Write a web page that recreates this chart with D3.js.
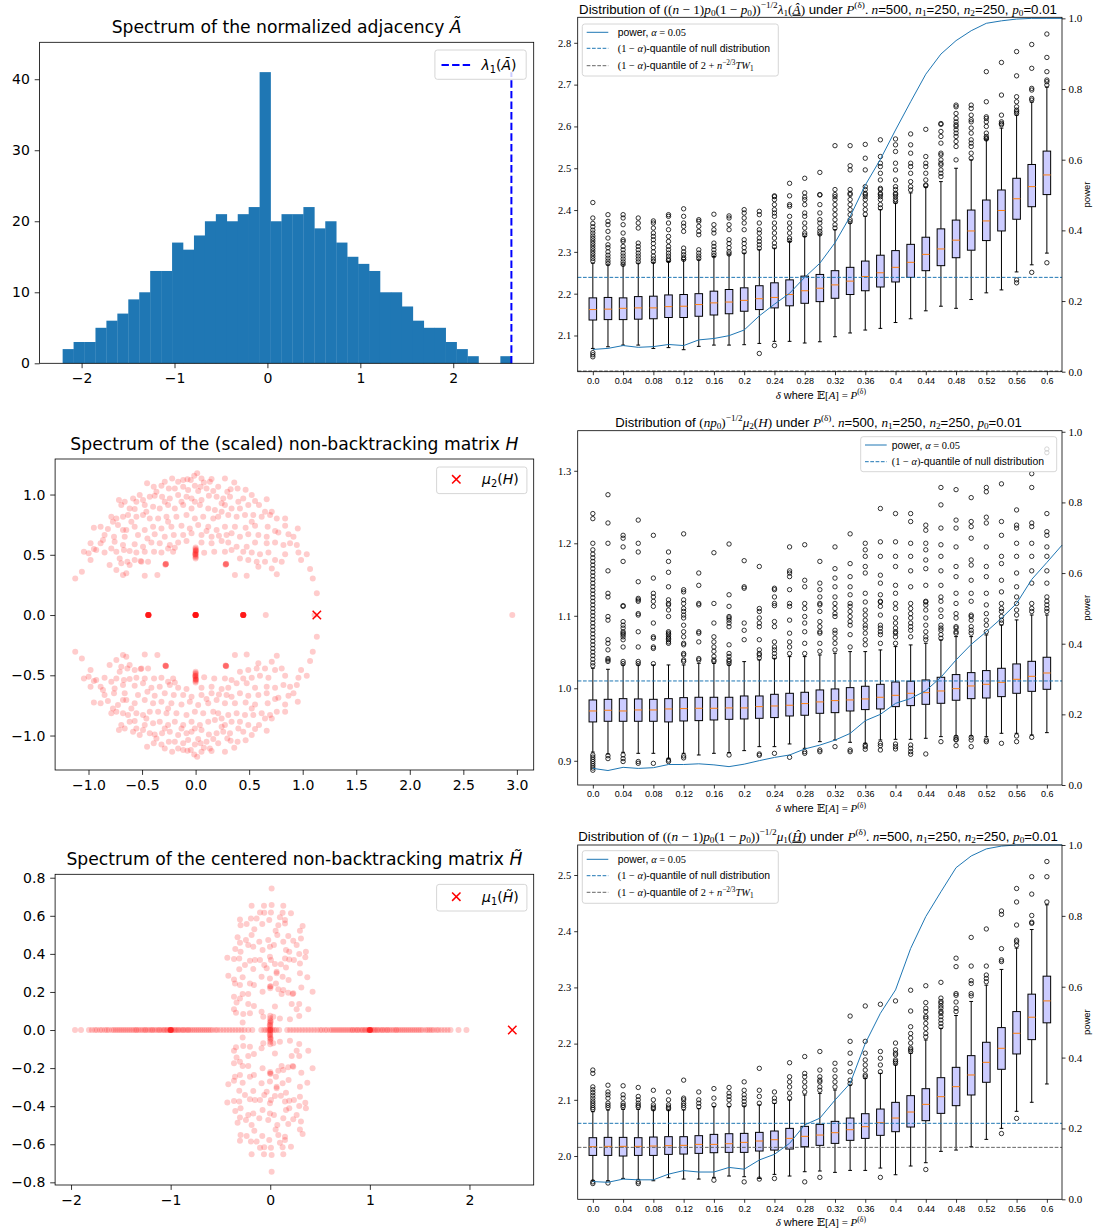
<!DOCTYPE html>
<html>
<head>
<meta charset="utf-8">
<script src="https://cdn.jsdelivr.net/npm/d3@7"></script>
<style>
  body { margin: 0; background: #fff; }
  svg { display: block; }
  text { white-space: pre; }
</style>
</head>
<body>
<svg id="fig" width="1094" height="1230"></svg>
<script>
// ---------------------------------------------------------------
// Spectrum of the normalized adjacency: histogram of 500 eigenvalues
// ---------------------------------------------------------------
const histBinStart = -2.204;
const histBinWidth = 0.11778;
const histCounts = [2,3,3,5,6,7,9,10,13,13,17,16,18,20,21,20,21,22,41,20,21,21,22,19,20,17,15,14,13,10,10,8,6,5,5,3,2,1,0,0,1];
const lambda1A = 2.626;

// ---------------------------------------------------------------
// Spectrum of the scaled non-backtracking matrix H (upper half plane;
// complex eigenvalues come in conjugate pairs)
// ---------------------------------------------------------------
const hUpper = [
[0.015,1.176],[-0.013,1.157],[-0.219,1.134],[-0.116,1.121],[-0.076,1.126],[-0.045,1.121],[0.055,1.134],[0.149,1.129],[0.274,1.134],[-0.453,1.093],[-0.288,1.107],[-0.163,1.107],[0.133,1.107],[0.361,1.101],[0.077,1.101],
[-0.391,1.065],[-0.319,1.074],[-0.250,1.051],[-0.194,1.051],[-0.116,1.065],[-0.007,1.074],[0.046,1.065],[0.102,1.051],[0.211,1.065],[0.327,1.043],[0.392,1.051],[0.467,1.040],[-0.366,1.024],[-0.070,1.038],[0.024,1.029],[0.165,1.029],[0.296,1.024],
[-0.716,0.955],[-0.662,0.941],[-0.584,0.968],[-0.522,0.996],[-0.491,0.955],[-0.428,0.982],[-0.382,0.991],[-0.313,0.982],[-0.241,0.968],[-0.163,0.996],[-0.085,0.982],[-0.038,0.968],[0.055,0.955],[0.124,0.991],[0.196,0.982],[0.258,0.968],[0.321,0.982],[0.445,0.968],[0.524,0.996],[0.555,0.946],[0.664,0.960],[-0.553,0.941],[-0.288,0.941],[-0.132,0.941],[-0.007,0.941],[0.243,0.927],[0.399,0.941],
[-0.694,0.913],[-0.616,0.885],[-0.569,0.880],[-0.475,0.913],[-0.397,0.899],[-0.335,0.885],[-0.257,0.913],[-0.194,0.885],[-0.116,0.913],[-0.038,0.885],[0.040,0.913],[0.118,0.885],[0.180,0.872],[0.274,0.913],[0.336,0.885],[0.414,0.885],[0.492,0.913],[0.592,0.913],[0.648,0.858],[0.711,0.858],[-0.460,0.858],[0.243,0.858],
[-0.787,0.816],[-0.740,0.802],[-0.678,0.816],[-0.631,0.830],[-0.553,0.816],[-0.491,0.830],[-0.428,0.802],[-0.350,0.802],[-0.272,0.816],[-0.179,0.816],[-0.085,0.830],[-0.007,0.802],[0.071,0.816],[0.165,0.802],[0.211,0.816],[0.305,0.830],[0.383,0.816],[0.461,0.830],[0.539,0.830],[0.617,0.816],[0.695,0.830],[0.758,0.802],[0.836,0.802],[-0.772,0.775],[-0.600,0.775],[-0.257,0.775],[0.524,0.775],
[-0.950,0.725],[-0.887,0.733],[-0.819,0.714],[-0.725,0.747],[-0.647,0.706],[-0.569,0.733],[-0.475,0.706],[-0.397,0.733],[-0.319,0.719],[-0.226,0.733],[-0.132,0.742],[-0.054,0.719],[0.024,0.747],[0.118,0.733],[0.196,0.706],[0.274,0.733],[0.367,0.733],[0.467,0.725],[0.555,0.742],[0.673,0.733],[0.742,0.697],[0.836,0.742],[0.954,0.719],[-0.678,0.706],[0.102,0.697],
[-0.850,0.664],[-0.762,0.650],[-0.662,0.650],[-0.538,0.664],[-0.450,0.636],[-0.382,0.670],[-0.288,0.650],[-0.204,0.664],[-0.116,0.664],[-0.038,0.678],[0.055,0.664],[0.149,0.650],[0.218,0.659],[0.289,0.664],[0.336,0.678],[0.414,0.650],[0.492,0.670],[0.586,0.664],[0.664,0.650],[0.773,0.686],[0.867,0.670],[0.914,0.650],[-0.865,0.623],
[-0.981,0.595],[-0.887,0.595],[-0.756,0.609],[-0.678,0.581],[-0.569,0.587],[-0.491,0.567],[-0.413,0.603],[-0.335,0.595],[-0.241,0.581],[-0.163,0.603],[-0.085,0.614],[0.055,0.603],[0.149,0.595],[0.243,0.614],[0.305,0.603],[0.383,0.567],[0.477,0.567],[0.555,0.603],[0.664,0.595],[0.742,0.603],[0.820,0.581],[0.882,0.595],[0.945,0.581],[-0.950,0.548],[-0.787,0.553],[-0.257,0.553],[-0.194,0.559],
[-1.043,0.526],[-0.999,0.512],[-0.928,0.540],[-0.850,0.520],[-0.740,0.526],[-0.669,0.540],[-0.616,0.531],[-0.553,0.520],[-0.475,0.526],[-0.388,0.526],[-0.319,0.520],[-0.210,0.526],[0.080,0.517],[0.174,0.526],[0.274,0.526],[0.336,0.540],[0.445,0.526],[0.524,0.520],[0.601,0.504],[0.680,0.520],[0.836,0.504],[0.960,0.520],[1.038,0.504],
[-0.981,0.457],[-0.709,0.470],[-0.637,0.443],[-0.569,0.457],[-0.513,0.448],[-0.444,0.443],[-0.506,0.443],[0.414,0.470],[0.492,0.457],[0.570,0.443],[0.648,0.443],[0.742,0.457],[0.804,0.443],[0.985,0.457],[-0.803,0.415],[-0.694,0.429],[-0.616,0.415],[0.586,0.401],
[-0.740,0.374],[-0.647,0.346],[-0.475,0.327],[-0.357,0.332],[0.367,0.332],[0.477,0.327],[0.711,0.387],[0.758,0.338],[1.069,0.382],[-1.124,0.304],[-1.062,0.360],[-0.678,0.332],[1.094,0.304],[1.132,0.180],
[0,0.560],[0,0.550],[0,0.540],[0,0.530],[0,0.520],[0,0.510],[0,0.500],[0,0.490],[0,0.480],[0,0.470],[0.004,0.535],[-0.004,0.505],
[-0.279,0.423],[-0.282,0.418],[-0.276,0.426],[-0.280,0.421],[0.283,0.423],[0.280,0.418],[0.286,0.426],[0.282,0.421]
];
const hReal = [-0.441,-0.441,-0.441,-0.441,-0.441,-0.441,-0.441,-0.441,-0.441,-0.441,
  0,0,0,0,0,0,0,0,0,0,0,0,
  0.445,0.445,0.445,0.445,0.445,0.445,0.445,0.445,0.445,0.445,
  0.655,1.11,2.957];
const mu2H = 1.132;

// ---------------------------------------------------------------
// Spectrum of the centered non-backtracking matrix (upper half plane)
// ---------------------------------------------------------------
const htUpper = [
[0.014,0.744],[-0.187,0.653],[-0.063,0.653],[0.014,0.657],[0.131,0.653],[-0.103,0.618],[-0.060,0.616],[0.007,0.618],[0.124,0.616],[0.208,0.613],
[-0.304,0.581],[-0.194,0.586],[-0.137,0.586],[-0.010,0.578],[0.097,0.592],[0.148,0.578],[-0.237,0.557],[-0.298,0.551],[-0.080,0.557],[0.081,0.551],
[0.148,0.560],[0.325,0.546],[0.298,0.522],[-0.160,0.529],[0.054,0.522],[-0.328,0.487],[-0.244,0.473],[-0.304,0.459],[-0.187,0.499],[-0.110,0.464],
[-0.020,0.473],[0.071,0.499],[0.181,0.494],[0.231,0.469],[0.308,0.481],[0.131,0.464],[0.265,0.446],[-0.351,0.425],[-0.298,0.411],[-0.221,0.446],
[-0.170,0.438],[-0.077,0.420],[-0.003,0.438],[0.037,0.446],[0.158,0.420],[0.191,0.411],[0.358,0.411],[-0.431,0.380],[-0.364,0.373],[-0.311,0.376],
[-0.204,0.364],[-0.154,0.368],[-0.103,0.368],[-0.003,0.385],[0.047,0.347],[0.107,0.345],[0.148,0.376],[0.191,0.371],[0.238,0.368],[0.291,0.399],
[0.352,0.382],[-0.311,0.319],[-0.254,0.341],[-0.170,0.320],[-0.060,0.341],[0.007,0.368],[-0.036,0.324],[0.064,0.306],[0.158,0.329],[0.298,0.350],
[-0.421,0.285],[-0.364,0.266],[-0.277,0.277],[-0.354,0.245],[-0.304,0.236],[-0.204,0.245],[-0.164,0.236],[-0.087,0.280],[-0.003,0.271],[0.064,0.298],
[0.124,0.280],[0.184,0.263],[0.298,0.298],[0.372,0.277],[-0.003,0.228],[0.057,0.245],[-0.077,0.201],[0.114,0.189],[0.181,0.196],[0.231,0.193],
[0.312,0.224],[0.425,0.201],[-0.364,0.175],[-0.304,0.166],[-0.277,0.189],[-0.221,0.189],[0.081,0.214],[0.131,0.210],[0.225,0.189],[-0.338,0.144],
[-0.221,0.137],[-0.164,0.126],[0.047,0.123],[0.215,0.137],[0.291,0.137],[0.265,0.109],[0.382,0.109],[-0.364,0.109],[-0.344,0.091],[-0.271,0.084],
[-0.204,0.088],[-0.087,0.096],[-0.070,0.070],[0.291,0.074],[0.030,0.070],[-0.277,0.039],[0.198,0.056],[0.097,0.061],
[0.000,0.220],[0.005,0.230],[0,0.075],[0,0.062],[0,0.050],[0,0.040],[0,0.030],[0,0.020],[0,0.010],[0.005,0.045],[-0.005,0.025]
];
const htReal = [-1.96,-1.90,-1.82,-1.79,-1.76,-1.74,-1.71,-1.69,-1.66,-1.64,-1.62,-1.59,-1.57,-1.55,-1.53,-1.51,-1.49,-1.47,-1.45,-1.43,-1.41,-1.39,-1.37,-1.35,-1.34,-1.32,-1.30,-1.28,-1.26,-1.25,-1.23,-1.21,-1.19,-1.18,-1.16,-1.14,-1.12,-1.11,-1.09,-1.07,-1.06,-1.04,-1.03,-1.01,-1.0,-1.0,-1.0,-1.0,-1.0,-0.99,-0.98,-0.96,-0.95,-0.93,-0.92,-0.90,-0.88,-0.87,-0.85,-0.83,-0.82,-0.80,-0.78,-0.76,-0.74,-0.72,-0.70,-0.68,-0.66,-0.64,-0.62,-0.60,-0.58,-0.55,-0.53,-0.50,-0.47,-0.44,-0.41,-0.38,-0.35,-0.32,-0.29,-0.26,-0.22,-0.18,-0.09,-0.06,-0.04,-0.02,0.0,0.0,0.0,0.02,0.04,0.06,0.09,0.17,0.20,0.23,0.26,0.29,0.32,0.35,0.38,0.41,0.44,0.47,0.50,0.52,0.55,0.57,0.60,0.62,0.64,0.66,0.68,0.70,0.72,0.74,0.76,0.78,0.80,0.82,0.83,0.85,0.87,0.88,0.90,0.92,0.93,0.95,0.96,0.98,0.99,1.0,1.0,1.0,1.0,1.0,1.01,1.02,1.04,1.05,1.07,1.08,1.10,1.12,1.13,1.15,1.17,1.18,1.20,1.22,1.24,1.26,1.27,1.29,1.31,1.33,1.35,1.37,1.39,1.41,1.43,1.45,1.47,1.49,1.51,1.53,1.56,1.58,1.60,1.62,1.64,1.67,1.69,1.72,1.75,1.78,1.81,1.89,1.97];
const mu1Ht = 2.43;

// ---------------------------------------------------------------
// Box plots over delta, with power curves
// ---------------------------------------------------------------
const boxDeltas = [0,0.02,0.04,0.06,0.08,0.10,0.12,0.14,0.16,0.18,0.20,0.22,0.24,0.26,0.28,0.30,0.32,0.34,0.36,0.38,0.40,0.42,0.44,0.46,0.48,0.50,0.52,0.54,0.56,0.58,0.60];
const powerDeltas = [0,0.02,0.04,0.06,0.08,0.10,0.12,0.14,0.16,0.18,0.20,0.22,0.24,0.26,0.28,0.30,0.32,0.34,0.36,0.38,0.40,0.42,0.44,0.46,0.48,0.50,0.52,0.54,0.56,0.58,0.60,0.62];
const xTickDeltas = [0,0.04,0.08,0.12,0.16,0.20,0.24,0.28,0.32,0.36,0.40,0.44,0.48,0.52,0.56,0.60];
const xTickLabels = ["0.0","0.04","0.08","0.12","0.16","0.2","0.24","0.28","0.32","0.36","0.4","0.44","0.48","0.52","0.56","0.6"];
const powerTicks = [0,0.2,0.4,0.6,0.8,1.0];

// statistic: ((n-1)p0(1-p0))^(-1/2) lambda_1
const aQ1  = [2.137,2.138,2.138,2.139,2.140,2.143,2.143,2.146,2.149,2.152,2.158,2.162,2.166,2.171,2.177,2.181,2.189,2.198,2.207,2.216,2.228,2.239,2.255,2.267,2.286,2.304,2.327,2.350,2.378,2.408,2.437];
const aMed = [2.162,2.163,2.165,2.166,2.166,2.169,2.170,2.174,2.178,2.180,2.184,2.188,2.191,2.198,2.207,2.213,2.221,2.230,2.241,2.250,2.263,2.275,2.294,2.307,2.328,2.350,2.374,2.399,2.427,2.456,2.484];
const aQ3  = [2.190,2.191,2.190,2.193,2.194,2.197,2.198,2.200,2.206,2.210,2.214,2.219,2.226,2.233,2.242,2.246,2.255,2.263,2.278,2.292,2.303,2.318,2.335,2.355,2.376,2.400,2.424,2.448,2.476,2.509,2.541];
const aLo  = [2.069,2.073,2.077,2.077,2.069,2.071,2.066,2.074,2.077,2.077,2.078,2.081,2.086,2.086,2.082,2.085,2.097,2.106,2.113,2.117,2.131,2.140,2.159,2.170,2.165,2.186,2.202,2.209,2.252,2.269,2.297];
const aHi  = [2.273,2.269,2.269,2.273,2.274,2.277,2.281,2.281,2.289,2.293,2.297,2.305,2.309,2.325,2.337,2.341,2.353,2.369,2.385,2.401,2.417,2.441,2.455,2.468,2.500,2.520,2.568,2.596,2.627,2.658,2.694];
const aOut = [
[2.049,2.054,2.059,2.278,2.284,2.29,2.296,2.302,2.308,2.314,2.32,2.326,2.332,2.338,2.345,2.352,2.36,2.368,2.381,2.418],
[2.389,2.373,2.365,2.349,2.333,2.317,2.31,2.30,2.292,2.285,2.278,2.272],
[2.389,2.381,2.365,2.345,2.329,2.325,2.313,2.305,2.297,2.29,2.283,2.276,2.27],
[2.381,2.369,2.357,2.321,2.313,2.305,2.297,2.29,2.283,2.276],
[2.374,2.369,2.357,2.345,2.337,2.329,2.32,2.31,2.30,2.29,2.283,2.277],
[2.389,2.385,2.369,2.353,2.337,2.325,2.313,2.305,2.297,2.29,2.283,2.279],
[2.403,2.385,2.369,2.361,2.349,2.309,2.30,2.293,2.286,2.282],
[2.377,2.373,2.361,2.349,2.341,2.305,2.297,2.29,2.284],
[2.39,2.365,2.353,2.345,2.321,2.313,2.305,2.297,2.291],
[2.386,2.381,2.365,2.353,2.329,2.32,2.31,2.30,2.295],
[2.401,2.393,2.381,2.369,2.353,2.329,2.32,2.31,2.30],
[2.057,2.397,2.389,2.369,2.353,2.345,2.333,2.325,2.317,2.309],
[2.076,2.432,2.434,2.425,2.413,2.401,2.393,2.385,2.369,2.357,2.345,2.333,2.321,2.312],
[2.464,2.434,2.413,2.409,2.385,2.369,2.357,2.345,2.333,2.327],
[2.476,2.441,2.431,2.425,2.413,2.393,2.385,2.369,2.357,2.345,2.34],
[2.490,2.436,2.437,2.413,2.393,2.377,2.369,2.357,2.349,2.343],
[2.554,2.432,2.449,2.437,2.425,2.413,2.401,2.389,2.377,2.365,2.357],
[2.554,2.506,2.496,2.440,2.449,2.437,2.425,2.413,2.401,2.389,2.377,2.372],
[2.557,2.524,2.496,2.456,2.440,2.432,2.449,2.437,2.425,2.413,2.401,2.39],
[2.568,2.528,2.512,2.504,2.488,2.472,2.452,2.440,2.432,2.449,2.437,2.425,2.413,2.405],
[2.570,2.556,2.540,2.512,2.496,2.472,2.456,2.440,2.432,2.449,2.437,2.425,2.42],
[2.582,2.556,2.536,2.512,2.504,2.488,2.468,2.456,2.448],
[2.593,2.528,2.512,2.504,2.488,2.472,2.46,2.458],
[2.605,2.607,2.588,2.576,2.560,2.536,2.532,2.520,2.512,2.508,2.496,2.488,2.480],
[2.651,2.647,2.631,2.619,2.611,2.604,2.600,2.592,2.584,2.576,2.564,2.552,2.520],
[2.651,2.643,2.627,2.616,2.611,2.596,2.584,2.568,2.560,2.552,2.536,2.524],
[2.731,2.659,2.623,2.619,2.611,2.600,2.584,2.576,2.572,2.570],
[2.753,2.675,2.627,2.611,2.607,2.604],
[2.226,2.233,2.779,2.721,2.671,2.659,2.647,2.639,2.635,2.631],
[2.251,2.796,2.739,2.691,2.687,2.667,2.663],
[2.274,2.821,2.765,2.731,2.711,2.707,2.699]
];
const aPower = [0.063,0.066,0.074,0.069,0.071,0.077,0.074,0.090,0.094,0.102,0.118,0.158,0.191,0.222,0.267,0.307,0.365,0.439,0.528,0.601,0.684,0.764,0.842,0.899,0.937,0.965,0.986,0.993,0.998,1.0,1.0,1.0];
const aNullQ = 2.239;
const aTwQ = 2.015;

// statistic: (n p0)^(-1/2) mu_2(H)
const bQ1  = [0.9536,0.9545,0.9545,0.9545,0.9545,0.9536,0.9549,0.9554,0.9563,0.9572,0.9577,0.9586,0.9596,0.9618,0.9628,0.9655,0.9664,0.9687,0.9706,0.9715,0.9747,0.9761,0.9779,0.9793,0.9835,0.9857,0.9866,0.9885,0.9931,0.9958,0.9986];
const bMed = [0.9687,0.9697,0.9687,0.9701,0.9701,0.9715,0.9720,0.9724,0.9724,0.9729,0.9729,0.9747,0.9756,0.9766,0.9789,0.9812,0.9830,0.9839,0.9853,0.9876,0.9903,0.9931,0.9940,0.9963,0.9995,1.0032,1.0055,1.0082,1.0124,1.0165,1.0211];
const bQ3  = [0.9839,0.9848,0.9857,0.9853,0.9848,0.9857,0.9871,0.9876,0.9876,0.9876,0.9894,0.9894,0.9917,0.9931,0.9945,0.9977,0.9991,1.0009,1.0028,1.0055,1.0087,1.0097,1.0115,1.0152,1.0189,1.0216,1.0244,1.0276,1.0336,1.0372,1.0428];
const bLo  = [0.9120,0.9094,0.9117,0.9103,0.9103,0.9034,0.9103,0.9080,0.9103,0.9113,0.9140,0.9195,0.9195,0.9232,0.9172,0.9264,0.9287,0.9255,0.9241,0.9287,0.9296,0.9296,0.9310,0.9333,0.9342,0.9342,0.9333,0.9379,0.9379,0.9356,0.9388];
const bHi  = [1.0276,1.0262,1.0322,1.0322,1.0322,1.0322,1.0322,1.0345,1.0345,1.0322,1.0368,1.0391,1.0414,1.0437,1.0437,1.0460,1.0483,1.0506,1.0506,1.0529,1.0575,1.0598,1.0621,1.0667,1.0713,1.0713,1.0736,1.0873,1.0943,1.1011,1.1011];
const bOut = [
[0.908,0.905,0.902,0.899,0.896,0.893,0.890,0.887,1.241,1.234,1.200,1.191,1.185,1.180,1.175,1.170,1.165,1.160,1.155,1.150,1.145,1.140,1.135,1.130,1.125,1.120,1.115,1.110,1.105,1.100,1.095,1.090,1.085,1.080,1.075,1.070,1.065,1.060,1.055,1.050,1.045,1.040,1.035,1.031],
[0.907,0.903,1.267,1.228,1.200,1.162,1.131,1.126,1.099,1.094,1.067,1.062,1.053,1.041,1.039,1.037],
[0.908,0.903,0.899,1.211,1.207,1.195,1.175,1.114,1.113,1.092,1.087,1.083,1.078,1.076,1.074,1.071,1.067,1.057,1.037,1.034],
[0.899,0.8965,1.232,1.200,1.188,1.147,1.124,1.122,1.120,1.103,1.101,1.078,1.057,1.037,1.034],
[0.8965,1.211,1.152,1.131,1.126,1.113,1.120,1.090,1.071,1.069,1.057,1.055,1.034],
[0.901,0.899,1.188,1.175,1.160,1.140,1.122,1.117,1.115,1.108,1.099,1.078,1.076,1.074,1.071,1.069,1.067,1.064,1.062],
[0.9067,0.904,1.213,1.136,1.133,1.122,1.117,1.110,1.106,1.101,1.097,1.087,1.078,1.071,1.062,1.060,1.048,1.046,1.039,1.037],
[1.159,1.142,1.117,1.115,1.078,1.076,1.064,1.041,1.039],
[1.187,1.117,1.090,1.071,1.064,1.057,1.051,1.044,1.039,1.037],
[0.908,1.199,1.129,1.113,1.099,1.097,1.094,1.090,1.085,1.060,1.048,1.044,1.039,1.037,1.034],
[1.176,1.140,1.138,1.090,1.080,1.067],
[0.9094,0.9076,1.168,1.110,1.106,1.097,1.090,1.085,1.067,1.053,1.048,1.046,1.042],
[0.9103,1.138,1.136,1.126,1.114,1.117,1.092,1.085,1.064,1.057,1.053,1.048,1.043],
[0.9048,1.195,1.162,1.159,1.154,1.136,1.117,1.113,1.094,1.076,1.064,1.057,1.048],
[0.9126,0.9103,1.198,1.149,1.140,1.117,1.110,1.099,1.090,1.078,1.062,1.048],
[0.9149,0.9126,1.175,1.145,1.136,1.126,1.117,1.115,1.106,1.092,1.085,1.078,1.076,1.062,1.051],
[0.9195,1.195,1.165,1.152,1.140,1.126,1.117,1.110,1.103,1.099,1.080,1.076,1.069,1.062,1.053],
[0.9149,0.9126,1.213,1.172,1.154,1.140,1.129,1.117,1.113,1.106,1.099,1.092,1.087,1.074,1.057],
[0.9218,0.9195,0.9159,1.200,1.191,1.182,1.168,1.159,1.131,1.119,1.108,1.101,1.094,1.087,1.083,1.076,1.067,1.060],
[0.9241,0.9209,0.9149,1.248,1.202,1.182,1.156,1.145,1.129,1.119,1.120,1.113,1.101,1.087,1.083,1.078,1.074,1.062],
[0.9232,0.9195,0.9163,1.241,1.202,1.182,1.168,1.142,1.131,1.117,1.110,1.097,1.090,1.083,1.078,1.076,1.071,1.062],
[0.9218,0.9172,0.9126,0.9090,1.241,1.230,1.200,1.182,1.162,1.140,1.117,1.110,1.103,1.097,1.090,1.085,1.080,1.071],
[0.9094,1.225,1.218,1.200,1.191,1.177,1.165,1.142,1.119,1.120,1.115,1.108,1.097,1.087,1.078,1.071,1.067],
[0.9264,1.277,1.253,1.221,1.198,1.182,1.162,1.142,1.126,1.120,1.108,1.099,1.087,1.083,1.080,1.074,1.069],
[0.9324,0.9296,0.9287,0.9209,1.274,1.232,1.221,1.195,1.168,1.154,1.131,1.117,1.103,1.097,1.085,1.083,1.078,1.076],
[0.9324,0.9287,0.9195,1.263,1.230,1.223,1.207,1.177,1.170,1.149,1.131,1.120,1.101,1.099,1.094,1.085,1.080,1.076],
[0.9287,0.9264,1.277,1.271,1.236,1.228,1.195,1.168,1.154,1.131,1.115,1.103,1.094,1.087,1.078],
[0.9241,1.282,1.230,1.211,1.182,1.172,1.149,1.133,1.117,1.110,1.106,1.099,1.094,1.090],
[0.9342,0.9264,1.246,1.225,1.221,1.200,1.182,1.159,1.140,1.126,1.117,1.108,1.101],
[0.9324,1.296,1.277,1.228,1.223,1.200,1.182,1.162,1.145,1.117,1.110,1.106],
[1.330,1.325,1.241,1.216,1.211,1.195,1.182,1.162,1.145,1.126,1.120,1.115,1.110,1.106]
];
const bPower = [0.047,0.041,0.050,0.047,0.049,0.058,0.058,0.060,0.057,0.052,0.059,0.069,0.078,0.085,0.102,0.113,0.127,0.146,0.182,0.200,0.231,0.245,0.267,0.305,0.354,0.398,0.434,0.472,0.514,0.582,0.630,0.679];
const bNullQ = 1.0101;

// statistic: ((n-1)p0(1-p0))^(-1/2) mu_1(H hat)
const cQ1  = [2.0011,2.0011,2.0000,2.0011,2.0011,2.0029,2.0035,2.0047,2.0059,2.0065,2.0065,2.0089,2.0106,2.0124,2.0166,2.0190,2.0225,2.0279,2.0314,2.0368,2.0433,2.0516,2.0629,2.0759,2.0896,2.1086,2.1312,2.1543,2.1816,2.2071,2.2370];
const cMed = [2.0166,2.0172,2.0172,2.0172,2.0178,2.0184,2.0190,2.0207,2.0207,2.0219,2.0243,2.0267,2.0290,2.0314,2.0350,2.0373,2.0415,2.0468,2.0522,2.0593,2.0676,2.0783,2.0919,2.1056,2.1234,2.1442,2.1667,2.1917,2.2184,2.2470,2.2760];
const cQ3  = [2.0326,2.0332,2.0332,2.0326,2.0338,2.0344,2.0344,2.0362,2.0385,2.0397,2.0403,2.0421,2.0445,2.0492,2.0528,2.0563,2.0617,2.0676,2.0753,2.0836,2.0955,2.1074,2.1198,2.1394,2.1578,2.1786,2.2024,2.2285,2.2570,2.2880,2.3200];
const cLo  = [1.9560,1.9560,1.9602,1.9584,1.9560,1.9614,1.9590,1.9590,1.9620,1.9644,1.9632,1.9602,1.9673,1.9644,1.9721,1.9733,1.9709,1.9744,1.9744,1.9786,1.9667,1.9822,1.9881,2.0083,2.0106,2.0166,2.0296,2.0492,2.0795,2.0956,2.1282];
const cHi  = [2.0789,2.0819,2.0830,2.0830,2.0819,2.0819,2.0819,2.0842,2.0878,2.0878,2.0890,2.0908,2.0937,2.0997,2.1086,2.1115,2.1175,2.1264,2.1382,2.1471,2.1620,2.1827,2.2065,2.2273,2.2500,2.2750,2.3040,2.3320,2.3700,2.4030,2.4470];
const cOut = [
[1.954,1.951,2.153,2.147,2.123,2.118,2.113,2.108,2.103,2.098,2.094,2.090,2.086,2.083],
[1.952,2.126,2.114,2.109,2.103,2.094,2.090,2.086],
[2.125,2.109,2.103,2.094,2.090,2.087],
[1.954,1.951,2.122,2.106,2.100,2.094,2.090,2.087],
[2.117,2.100,2.091,2.087,2.084],
[2.114,2.100,2.091,2.087,2.084],
[2.135,2.103,2.100,2.094,2.090,2.086],
[2.114,2.100,2.094,2.088],
[1.957,2.120,2.103,2.091],
[2.122,2.112,2.106,2.100,2.091],
[1.954,2.132,2.117,2.109,2.103,2.097,2.091],
[1.959,2.156,2.117,2.106,2.094],
[1.960,2.114,2.103,2.097],
[2.166,2.141,2.132,2.123,2.112,2.103],
[1.954,2.177,2.147,2.141,2.132,2.123,2.114],
[1.962,2.186,2.153,2.141,2.135,2.132,2.123,2.117],
[2.165,2.153,2.141,2.132,2.123],
[2.249,2.204,2.183,2.165,2.150,2.135,2.129],
[2.267,2.204,2.183,2.171,2.162,2.153,2.144,2.141],
[1.962,2.270,2.186,2.174,2.162,2.150],
[2.276,2.201,2.189,2.183,2.180,2.171,2.168,2.165],
[2.295,2.258,2.230,2.218,2.210,2.201,2.192,2.189,2.186],
[1.976,2.303,2.273,2.263,2.257,2.248,2.245,2.236,2.227,2.218,2.212],
[2.309,2.281,2.275,2.272,2.267,2.263,2.257,2.254,2.248,2.242,2.236,2.230],
[2.352,2.337,2.289,2.286,2.274,2.263,2.257],
[2.389,2.338,2.312,2.307,2.289,2.285],
[2.404,2.338,2.322,2.316,2.310],
[2.040,2.436,2.430,2.369,2.349,2.346],
[2.067,2.476,2.452,2.411,2.384,2.381,2.375],
[2.497,2.466,2.428,2.416,2.414],
[2.524,2.497,2.452]
];
const cPower = [0.050,0.048,0.057,0.055,0.055,0.071,0.081,0.077,0.077,0.090,0.085,0.111,0.127,0.158,0.210,0.229,0.280,0.327,0.440,0.525,0.591,0.708,0.798,0.868,0.936,0.969,0.989,0.997,1.0,1.0,1.0,1.0];
const cNullQ = 2.0582;
const cTwQ = 2.0154;

// ---------------------------------------------------------------
// drawing helpers
// ---------------------------------------------------------------
const svg = d3.select('#fig');
const SANS = "'DejaVu Sans', sans-serif";
const LSANS = "'Liberation Sans', Arial, sans-serif";
const SERIF = "'Liberation Serif', 'DejaVu Serif', serif";
const TAB_BLUE = '#1f77b4';

// Text made of runs: [text, kind, position]; kind 's' sans, 'r' math roman,
// 'i' math italic, with optional 'u' for underline; position 1 = sup, -1 = sub.
function rich(parent, x, y, segs, o) {
  const build = size => {
    const t = parent.append('text').attr('x', x).attr('y', y)
      .attr('text-anchor', o.anchor || 'start').attr('fill', '#000');
    if (o.transform) t.attr('transform', o.transform);
    let cur = 0;
    segs.forEach(([txt, kind, pos = 0]) => {
      const fs = pos ? size * 0.7 : size;
      const target = pos > 0 ? -0.4 * size : pos < 0 ? 0.22 * size : 0;
      const ts = t.append('tspan').text(txt).attr('font-size', fs).attr('dy', target - cur);
      cur = target;
      const fam = kind[0] === 's' ? o.sans : o.math;
      ts.attr('font-family', fam);
      if (kind.includes('i')) ts.attr('font-style', 'italic');
      if (kind.includes('u')) ts.attr('text-decoration', 'underline');
    });
    return t;
  };
  let t = build(o.size);
  if (o.fit) {
    const w = t.node().getBBox().width;
    t.remove();
    t = build(o.size * o.fit / w);
  }
  return t;
}

function frame(g, p) {
  g.append('rect').attr('x', p.left).attr('y', p.top)
    .attr('width', p.right - p.left).attr('height', p.bottom - p.top)
    .attr('fill', 'none').attr('stroke', '#000').attr('stroke-width', 0.8);
}

function styleAxis(sel, family, size) {
  sel.select('.domain').remove();
  sel.selectAll('line').attr('stroke', '#000').attr('stroke-width', 0.8);
  sel.selectAll('text').attr('font-family', family).attr('font-size', size).attr('fill', '#000');
}

function legendBox(g, x0, y0, x1, y1) {
  g.append('rect').attr('x', x0).attr('y', y0).attr('width', x1 - x0).attr('height', y1 - y0)
    .attr('rx', 2.5).attr('fill', '#fff').attr('fill-opacity', 0.8)
    .attr('stroke', '#cccccc').attr('stroke-width', 0.8);
}

const xMark = 'M-4.2,-4.2L4.2,4.2M-4.2,4.2L4.2,-4.2';
const TITLE_SIZE = 17.2;

// ---------------------------------------------------------------
// Panel 1: histogram
// ---------------------------------------------------------------
(function () {
  const p = { left: 39.6, right: 533.7, top: 42.3, bottom: 363.3 };
  const g = svg.append('g');
  const x = d3.scaleLinear().domain([-2.452, 2.866]).range([p.left, p.right]);
  const y = d3.scaleLinear().domain([0, 45.2]).range([p.bottom, p.top]);
  const bins = histCounts.map((c, i) => ({ x0: histBinStart + i * histBinWidth, x1: histBinStart + (i + 1) * histBinWidth, c }));
  g.append('g').selectAll('rect').data(bins.filter(b => b.c > 0)).join('rect')
    .attr('x', d => x(d.x0)).attr('width', d => x(d.x1) - x(d.x0) + 0.3)
    .attr('y', d => y(d.c)).attr('height', d => y(0) - y(d.c))
    .attr('fill', TAB_BLUE);
  g.append('line').attr('x1', x(lambda1A)).attr('x2', x(lambda1A))
    .attr('y1', y(0)).attr('y2', y(d3.max(histCounts)))
    .attr('stroke', '#0000ff').attr('stroke-width', 2).attr('stroke-dasharray', '7.4,3.2');
  g.append('g').attr('transform', `translate(0,${p.bottom})`)
    .call(d3.axisBottom(x).tickValues([-2, -1, 0, 1, 2]).tickFormat(d3.format('d')).tickSize(4.9).tickPadding(4.9))
    .call(s => styleAxis(s, SANS, 14));
  g.append('g').attr('transform', `translate(${p.left},0)`)
    .call(d3.axisLeft(y).tickValues([0, 10, 20, 30, 40]).tickFormat(d3.format('d')).tickSize(4.9).tickPadding(4.9))
    .call(s => styleAxis(s, SANS, 14));
  frame(g, p);
  legendBox(g, 434.9, 50, 526.2, 79.3);
  g.append('line').attr('x1', 441.5).attr('x2', 471.1).attr('y1', 65).attr('y2', 65)
    .attr('stroke', '#0000ff').attr('stroke-width', 2).attr('stroke-dasharray', '7.4,3.2');
  rich(g, 481.4, 70, [['λ', 'i'], ['1', 'r', -1], ['(', 'r'], ['Ã', 'i'], [')', 'r']], { size: 14, sans: SANS, math: SANS });
  rich(g, (p.left + p.right) / 2, 33.3, [['Spectrum of the normalized adjacency ', 's'], ['Ã', 'i']],
    { size: TITLE_SIZE, anchor: 'middle', sans: SANS, math: SANS });
})();

// ---------------------------------------------------------------
// Panels 2 and 3: eigenvalues in the complex plane
// ---------------------------------------------------------------
function complexPanel(cfg) {
  const p = cfg.panel;
  const g = svg.append('g');
  const x = d3.scaleLinear().domain(cfg.xDomain).range([p.left, p.right]);
  const y = d3.scaleLinear().domain(cfg.yDomain).range([p.bottom, p.top]);
  const pts = cfg.upper.concat(cfg.upper.filter(d => d[1] > 0).map(d => [d[0], -d[1]]))
    .concat(cfg.real.map(v => [v, 0]));
  g.append('g').selectAll('circle').data(pts).join('circle')
    .attr('cx', d => x(d[0])).attr('cy', d => y(d[1])).attr('r', 3)
    .attr('fill', '#ff0000').attr('fill-opacity', 0.2);
  g.append('path').attr('d', xMark).attr('transform', `translate(${x(cfg.mark)},${y(0)})`)
    .attr('stroke', '#ff0000').attr('stroke-width', 1.5).attr('fill', 'none');
  g.append('g').attr('transform', `translate(0,${p.bottom})`)
    .call(d3.axisBottom(x).tickValues(cfg.xTicks).tickFormat(d3.format(cfg.xFmt)).tickSize(4.9).tickPadding(4.9))
    .call(s => styleAxis(s, SANS, 14));
  g.append('g').attr('transform', `translate(${p.left},0)`)
    .call(d3.axisLeft(y).tickValues(cfg.yTicks).tickFormat(d3.format(cfg.yFmt)).tickSize(4.9).tickPadding(4.9))
    .call(s => styleAxis(s, SANS, 14));
  frame(g, p);
  const ly = cfg.legendY;
  legendBox(g, 436.6, ly - 12.3, 526.9, ly + 14.3);
  g.append('path').attr('d', xMark).attr('transform', `translate(456.3,${ly})`)
    .attr('stroke', '#ff0000').attr('stroke-width', 1.5).attr('fill', 'none');
  rich(g, 482, ly + 5, cfg.legendText, { size: 14, sans: SANS, math: SANS });
  rich(g, (p.left + p.right) / 2, cfg.titleY, cfg.title, { size: TITLE_SIZE, anchor: 'middle', sans: SANS, math: SANS });
}

complexPanel({
  panel: { left: 55.1, right: 533.7, top: 459, bottom: 770 },
  xDomain: [-1.312, 3.157], yDomain: [-1.286, 1.295],
  upper: hUpper, real: hReal, mark: mu2H,
  xTicks: [-1, -0.5, 0, 0.5, 1, 1.5, 2, 2.5, 3], xFmt: '.1f',
  yTicks: [-1, -0.5, 0, 0.5, 1], yFmt: '.1f',
  legendY: 479.3,
  legendText: [['μ', 'i'], ['2', 'r', -1], ['(', 'r'], ['H', 'i'], [')', 'r']],
  title: [['Spectrum of the (scaled) non-backtracking matrix ', 's'], ['H', 'i']],
  titleY: 450
});

complexPanel({
  panel: { left: 55.1, right: 533.7, top: 874.3, bottom: 1185 },
  xDomain: [-2.160, 2.645], yDomain: [-0.814, 0.818],
  upper: htUpper, real: htReal, mark: mu1Ht,
  xTicks: [-2, -1, 0, 1, 2], xFmt: 'd',
  yTicks: [-0.8, -0.6, -0.4, -0.2, 0, 0.2, 0.4, 0.6, 0.8], yFmt: '.1f',
  legendY: 896.7,
  legendText: [['μ', 'i'], ['1', 'r', -1], ['(', 'r'], ['H̃', 'i'], [')', 'r']],
  title: [['Spectrum of the centered non-backtracking matrix ', 's'], ['H̃', 'i']],
  titleY: 865
});

// ---------------------------------------------------------------
// Panels 4-6: box plots with power on a twin axis
// ---------------------------------------------------------------
const titleTail = [['. ', 'r'], ['n', 'i'], ['=500, ', 's'], ['n', 'i'], ['1', 'r', -1], ['=250, ', 's'],
  ['n', 'i'], ['2', 'r', -1], ['=250, ', 's'], ['p', 'i'], ['0', 'r', -1], ['=0.01', 's']];
const legPower = [['power, ', 's'], ['α', 'i'], [' = 0.05', 'r']];
const legNull = [['(1 − ', 'r'], ['α', 'i'], [')', 'r'], ['-quantile of null distribution', 's']];
const legTw = [['(1 − ', 'r'], ['α', 'i'], [')', 'r'], ['-quantile of ', 's'], ['2 + ', 'r'], ['n', 'i'],
  ['−2/3', 'r', 1], ['TW', 'i'], ['1', 'r', -1]];
const xLabel = [['δ', 'i'], [' where ', 's'], ['𝔼', 'r'], ['[', 'r'], ['A', 'i'], ['] = ', 'r'], ['P', 'i'], ['(δ)', 'r', 1]];
const LEGEND_SIZE = 10.4;

function boxPanel(cfg) {
  const p = cfg.panel;
  const g = svg.append('g');
  const x = d3.scaleLinear().domain([-0.02, 0.62]).range([p.left, p.right]);
  const y = d3.scaleLinear().domain(cfg.yDomain).range([p.bottom, p.top]);
  const yp = d3.scaleLinear().domain(cfg.pDomain).range([p.bottom, p.top]);
  const hw = 0.005, cw = 0.0025;

  const boxes = boxDeltas.map((d, i) => ({
    d, q1: cfg.q1[i], med: cfg.med[i], q3: cfg.q3[i], lo: cfg.lo[i], hi: cfg.hi[i], out: cfg.out[i]
  }));
  const bg = g.append('g');
  // whiskers and caps
  boxes.forEach(b => {
    bg.append('line').attr('x1', x(b.d)).attr('x2', x(b.d)).attr('y1', y(b.q1)).attr('y2', y(b.lo))
      .attr('stroke', '#000').attr('stroke-width', 1);
    bg.append('line').attr('x1', x(b.d)).attr('x2', x(b.d)).attr('y1', y(b.q3)).attr('y2', y(b.hi))
      .attr('stroke', '#000').attr('stroke-width', 1);
    [b.lo, b.hi].forEach(v => bg.append('line')
      .attr('x1', x(b.d - cw)).attr('x2', x(b.d + cw)).attr('y1', y(v)).attr('y2', y(v))
      .attr('stroke', '#000').attr('stroke-width', 1));
  });
  bg.selectAll('rect.box').data(boxes).join('rect').attr('class', 'box')
    .attr('x', b => x(b.d - hw)).attr('width', b => x(b.d + hw) - x(b.d - hw))
    .attr('y', b => y(b.q3)).attr('height', b => y(b.q1) - y(b.q3))
    .attr('fill', '#ccccff').attr('stroke', '#000').attr('stroke-width', 1);
  bg.selectAll('line.med').data(boxes).join('line').attr('class', 'med')
    .attr('x1', b => x(b.d - hw)).attr('x2', b => x(b.d + hw))
    .attr('y1', b => y(b.med)).attr('y2', b => y(b.med))
    .attr('stroke', '#ff7f0e').attr('stroke-width', 1);
  const flyers = boxes.flatMap(b => b.out.map(v => ({ d: b.d, v })));
  bg.selectAll('circle').data(flyers).join('circle')
    .attr('cx', f => x(f.d)).attr('cy', f => y(f.v)).attr('r', 2.2)
    .attr('fill', 'none').attr('stroke', '#000').attr('stroke-width', 0.8);

  // reference quantile lines
  g.append('line').attr('x1', p.left).attr('x2', p.right).attr('y1', y(cfg.nullQ)).attr('y2', y(cfg.nullQ))
    .attr('stroke', TAB_BLUE).attr('stroke-width', 1).attr('stroke-dasharray', '3.7,1.6');
  if (cfg.twQ != null) {
    g.append('line').attr('x1', p.left).attr('x2', p.right).attr('y1', y(cfg.twQ)).attr('y2', y(cfg.twQ))
      .attr('stroke', '#666').attr('stroke-width', 1).attr('stroke-dasharray', '3.7,1.6');
  }

  // power curve (twin axis)
  const line = d3.line().x((v, i) => x(powerDeltas[i])).y(v => yp(v));
  g.append('path').attr('d', line(cfg.power)).attr('fill', 'none')
    .attr('stroke', TAB_BLUE).attr('stroke-width', 1);

  // axes
  g.append('g').attr('transform', `translate(0,${p.bottom})`)
    .call(d3.axisBottom(x).tickValues(xTickDeltas).tickFormat((d, i) => xTickLabels[i]).tickSize(3.5).tickPadding(2.5))
    .call(s => styleAxis(s, LSANS, 9));
  g.append('g').attr('transform', `translate(${p.left},0)`)
    .call(d3.axisLeft(y).tickValues(cfg.yTicks).tickFormat(d3.format('.1f')).tickSize(3.5).tickPadding(3))
    .call(s => styleAxis(s, SERIF, 10.5));
  g.append('g').attr('transform', `translate(${p.right},0)`)
    .call(d3.axisRight(yp).tickValues(powerTicks).tickFormat(d3.format('.1f')).tickSize(3.5).tickPadding(3))
    .call(s => styleAxis(s, SERIF, 11));
  frame(g, p);

  rich(g, (p.left + p.right) / 2 + 1, p.bottom + 27, xLabel, { size: 10, anchor: 'middle', sans: LSANS, math: SERIF, fit: 91 });
  const cy = (p.top + p.bottom) / 2;
  g.append('text').attr('transform', `translate(1090,${cy}) rotate(-90)`).attr('text-anchor', 'middle')
    .attr('font-family', LSANS).attr('font-size', 9.5).text('power');

  // legend
  const L = cfg.legend;
  legendBox(g, L.x0, L.y0, L.x1, L.y1);
  L.items.forEach((it, k) => {
    const ly = L.rows[k];
    g.append('line').attr('x1', L.lx0).attr('x2', L.lx1).attr('y1', ly).attr('y2', ly)
      .attr('stroke', it.color).attr('stroke-width', 1).attr('stroke-dasharray', it.dash || null);
    rich(g, L.tx, ly + 3.5, it.text, { size: LEGEND_SIZE, sans: LSANS, math: SERIF });
  });

  rich(g, cfg.titleX, cfg.titleY, cfg.title, { size: 11, anchor: 'middle', sans: LSANS, math: SERIF, fit: cfg.titleW });
}

boxPanel({
  panel: { left: 577.7, right: 1062, top: 17.3, bottom: 371.7 },
  yDomain: [2.0134, 2.861], pDomain: [0, 1.003], yTicks: [2.1, 2.2, 2.3, 2.4, 2.5, 2.6, 2.7, 2.8],
  q1: aQ1, med: aMed, q3: aQ3, lo: aLo, hi: aHi, out: aOut, power: aPower, nullQ: aNullQ, twQ: aTwQ,
  legend: {
    x0: 582.3, y0: 24, x1: 778.3, y1: 76, lx0: 586.7, lx1: 608.3, tx: 617.7, rows: [32.3, 48.3, 65.7],
    items: [{ color: TAB_BLUE, text: legPower }, { color: TAB_BLUE, dash: '3.7,1.6', text: legNull },
            { color: '#666', dash: '3.7,1.6', text: legTw }]
  },
  title: [['Distribution of ', 's'], ['((', 'r'], ['n', 'i'], [' − 1)', 'r'], ['p', 'i'], ['0', 'r', -1], ['(1 − ', 'r'],
    ['p', 'i'], ['0', 'r', -1], ['))', 'r'], ['−1/2', 'r', 1], ['λ', 'i'], ['1', 'r', -1], ['(', 'r'], ['Â', 'iu'], [')', 'r'],
    [' under ', 's'], ['P', 'i'], ['(δ)', 'r', 1]].concat(titleTail),
  titleX: 818, titleY: 13.5, titleW: 478
});

boxPanel({
  panel: { left: 577.7, right: 1062, top: 430.7, bottom: 785 },
  yDomain: [0.8666, 1.3553], pDomain: [0, 1.003], yTicks: [0.9, 1.0, 1.1, 1.2, 1.3],
  q1: bQ1, med: bMed, q3: bQ3, lo: bLo, hi: bHi, out: bOut, power: bPower, nullQ: bNullQ, twQ: null,
  legend: {
    x0: 860.7, y0: 436.7, x1: 1056.7, y1: 471.7, lx0: 865, lx1: 886.7, tx: 891.7, rows: [445, 461.7],
    items: [{ color: TAB_BLUE, text: legPower }, { color: TAB_BLUE, dash: '3.7,1.6', text: legNull }]
  },
  title: [['Distribution of ', 's'], ['(', 'r'], ['np', 'i'], ['0', 'r', -1], [')', 'r'], ['−1/2', 'r', 1],
    ['μ', 'i'], ['2', 'r', -1], ['(', 'r'], ['H', 'i'], [')', 'r'], [' under ', 's'], ['P', 'i'], ['(δ)', 'r', 1]].concat(titleTail),
  titleX: 818.6, titleY: 426.5, titleW: 407
});

boxPanel({
  panel: { left: 577.7, right: 1062, top: 845, bottom: 1199.3 },
  yDomain: [1.9230, 2.5534], pDomain: [0, 1.0], yTicks: [2.0, 2.1, 2.2, 2.3, 2.4, 2.5],
  q1: cQ1, med: cMed, q3: cQ3, lo: cLo, hi: cHi, out: cOut, power: cPower, nullQ: cNullQ, twQ: cTwQ,
  legend: {
    x0: 582.3, y0: 850.7, x1: 778.3, y1: 903.3, lx0: 586.7, lx1: 608.3, tx: 617.7, rows: [859.3, 875.7, 892.3],
    items: [{ color: TAB_BLUE, text: legPower }, { color: TAB_BLUE, dash: '3.7,1.6', text: legNull },
            { color: '#666', dash: '3.7,1.6', text: legTw }]
  },
  title: [['Distribution of ', 's'], ['((', 'r'], ['n', 'i'], [' − 1)', 'r'], ['p', 'i'], ['0', 'r', -1], ['(1 − ', 'r'],
    ['p', 'i'], ['0', 'r', -1], ['))', 'r'], ['−1/2', 'r', 1], ['μ', 'i'], ['1', 'r', -1], ['(', 'r'], ['Ĥ', 'iu'], [')', 'r'],
    [' under ', 's'], ['P', 'i'], ['(δ)', 'r', 1]].concat(titleTail),
  titleX: 818, titleY: 840.5, titleW: 480
});
</script>
</body>
</html>
